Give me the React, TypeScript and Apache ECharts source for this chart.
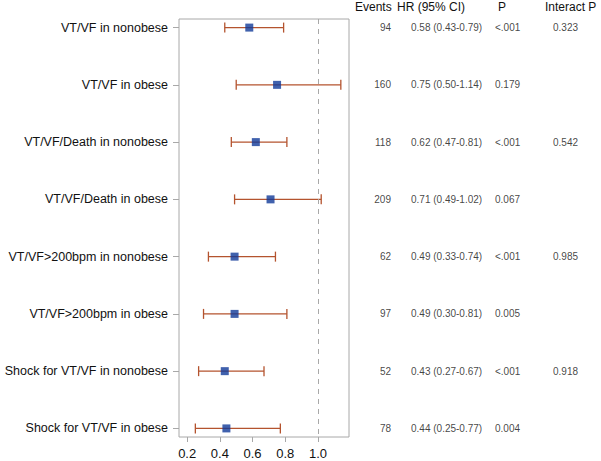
import React, { useEffect, useRef } from "react";
import * as echarts from "echarts";

const labels = [
  "VT/VF in nonobese",
  "VT/VF in obese",
  "VT/VF/Death in nonobese",
  "VT/VF/Death in obese",
  "VT/VF>200bpm in nonobese",
  "VT/VF>200bpm in obese",
  "Shock for VT/VF in nonobese",
  "Shock for VT/VF in obese",
];
const hr = [0.58, 0.75, 0.62, 0.71, 0.49, 0.49, 0.43, 0.44];
const lower = [0.43, 0.5, 0.47, 0.49, 0.33, 0.3, 0.27, 0.25];
const upper = [0.79, 1.14, 0.81, 1.02, 0.74, 0.81, 0.67, 0.77];
const events = ["94", "160", "118", "209", "62", "97", "52", "78"];
const pValues = ["<.001", "0.179", "<.001", "0.067", "<.001", "0.005", "<.001", "0.004"];
const interactP = ["0.323", "", "0.542", "", "0.985", "", "0.918", ""];
const xTicks = [0.2, 0.4, 0.6, 0.8, 1.0];
const headers = ["Events", "HR (95% CI)", "P", "Interact P"];

const FONT = "'Liberation Sans', Arial, sans-serif";

export default function App() {
  const ref = useRef<HTMLDivElement>(null);
  useEffect(() => {
    if (!ref.current) return;
    const chart = echarts.init(ref.current, null, { renderer: "svg" });
    const rows = labels.map((_, i) => i);
    const hrText = hr.map((h, i) => `${h.toFixed(2)} (${lower[i].toFixed(2)}-${upper[i].toFixed(2)})`);
    const colSeries = (xPos: number, texts: string[], align: string) => ({
      type: "scatter",
      xAxisIndex: 1,
      yAxisIndex: 1,
      symbolSize: 0,
      silent: true,
      data: rows.map((i) => [xPos, i]),
      label: {
        show: true,
        position: "inside",
        align,
        verticalAlign: "middle",
        fontSize: 10,
        color: "#111",
        fontFamily: FONT,
        formatter: (p: any) => texts[p.dataIndex],
      },
    });
    chart.setOption({
      animation: false,
      textStyle: { fontFamily: FONT },
      grid: [
        {
          left: 179, right: 252, top: 19, bottom: 24, show: true,
          borderColor: "#a8a8a8", borderWidth: 1, backgroundColor: "transparent",
          containLabel: false, outerBoundsMode: "none",
        },
        { left: 349, right: 0, top: 19, bottom: 24, show: false, containLabel: false, outerBoundsMode: "none" },
      ],
      xAxis: [
        {
          type: "value",
          gridIndex: 0,
          min: 0.15,
          max: 1.19,
          splitLine: { show: false },
          axisLine: { show: false, onZero: false },
          axisTick: { show: true, length: 5, lineStyle: { color: "#a8a8a8" }, customValues: xTicks },
          axisLabel: {
            fontSize: 13,
            color: "#111",
            margin: 10,
            customValues: xTicks,
            formatter: (v: number) => v.toFixed(1),
          },
        },
        { type: "value", gridIndex: 1, min: 0, max: 252, show: false },
      ],
      yAxis: [
        {
          type: "value",
          gridIndex: 0,
          inverse: true,
          min: -0.15,
          max: 7.15,
          splitLine: { show: false },
          axisLine: { show: false, onZero: false },
          axisTick: { show: true, length: 6, lineStyle: { color: "#a8a8a8" }, customValues: rows },
          axisLabel: {
            fontSize: 12.5,
            color: "#111",
            margin: 11,
            customValues: rows,
            formatter: (v: number) => labels[Math.round(v)] ?? "",
          },
        },
        { type: "value", gridIndex: 1, inverse: true, min: -0.15, max: 7.15, show: false },
      ],
      series: [
        {
          type: "custom",
          xAxisIndex: 0,
          yAxisIndex: 0,
          silent: true,
          data: rows.map((i) => [lower[i], upper[i], i]),
          renderItem: (params: any, api: any) => {
            const lo = api.coord([api.value(0), api.value(2)]);
            const hi = api.coord([api.value(1), api.value(2)]);
            const c = 5;
            const style = { stroke: "#b4532e", lineWidth: 1.3 };
            return {
              type: "group",
              children: [
                { type: "line", shape: { x1: lo[0], y1: lo[1], x2: hi[0], y2: hi[1] }, style },
                { type: "line", shape: { x1: lo[0], y1: lo[1] - c, x2: lo[0], y2: lo[1] + c }, style },
                { type: "line", shape: { x1: hi[0], y1: hi[1] - c, x2: hi[0], y2: hi[1] + c }, style },
              ],
            };
          },
          markLine: {
            silent: true,
            symbol: "none",
            label: { show: false },
            lineStyle: { color: "#a8a8a8", type: [5, 5], width: 1 },
            data: [{ xAxis: 1.0 }],
          },
        },
        {
          type: "scatter",
          xAxisIndex: 0,
          yAxisIndex: 0,
          symbol: "rect",
          symbolSize: 8,
          silent: true,
          itemStyle: { color: "#103a98" },
          data: rows.map((i) => [hr[i], i]),
          z: 5,
        },
        colSeries(42, events, "right"),
        colSeries(62, hrText, "left"),
        colSeries(146, pValues, "left"),
        colSeries(204, interactP, "left"),
      ],
      graphic: [
        { type: "text", left: 355, top: 1, style: { text: headers[0], fontSize: 12, fill: "#111", fontFamily: FONT } },
        { type: "text", left: 397, top: 1, style: { text: headers[1], fontSize: 12, fill: "#111", fontFamily: FONT } },
        { type: "text", left: 498, top: 1, style: { text: headers[2], fontSize: 12, fill: "#111", fontFamily: FONT } },
        { type: "text", left: 545, top: 1, style: { text: headers[3], fontSize: 12, fill: "#111", fontFamily: FONT } },
      ],
    });
    return () => chart.dispose();
  }, []);
  return <div ref={ref} style={{ width: 601, height: 461, position: "absolute", left: 0, top: 0 }} />;
}
